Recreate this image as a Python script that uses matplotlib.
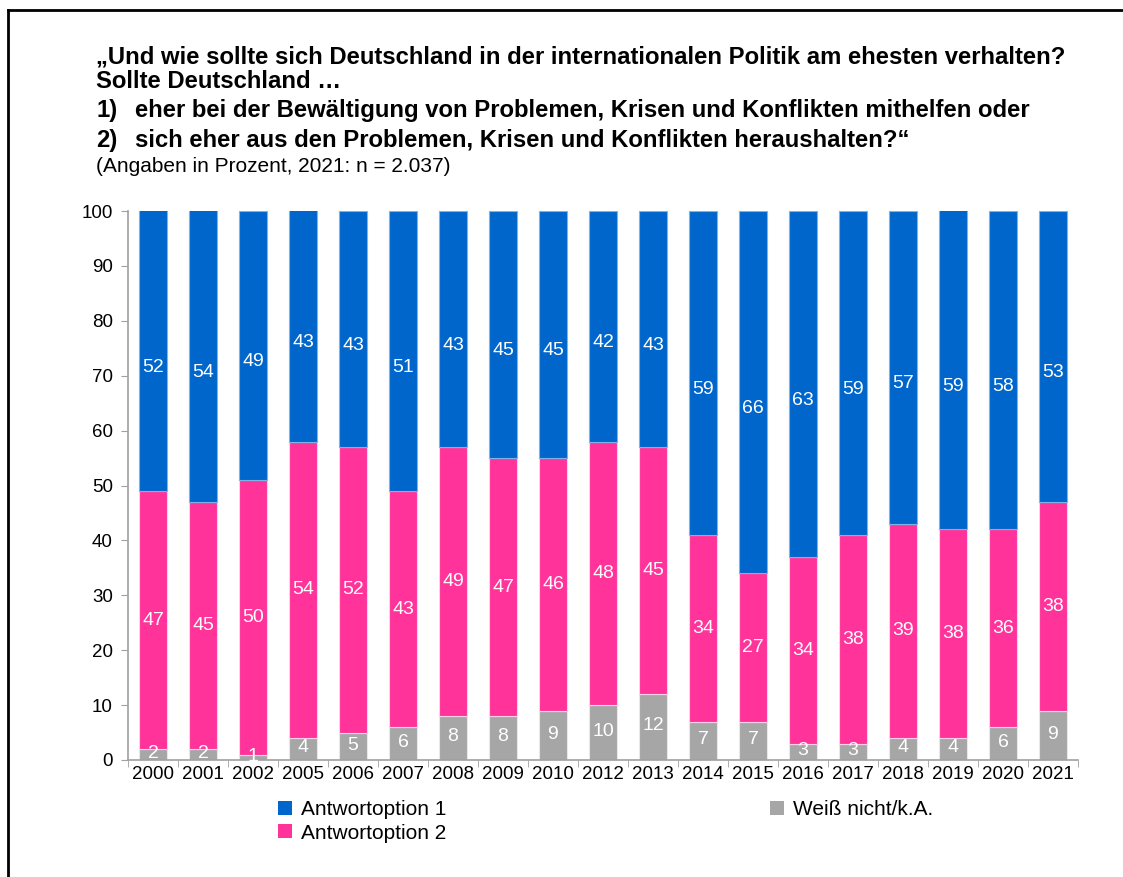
import matplotlib
matplotlib.use("Agg")
import matplotlib.pyplot as plt
from matplotlib.patches import Patch
from matplotlib.lines import Line2D
import numpy as np

plt.rcParams['font.family'] = ['Liberation Sans', 'DejaVu Sans']

years = ["2000", "2001", "2002", "2005", "2006", "2007", "2008", "2009", "2010",
         "2012", "2013", "2014", "2015", "2016", "2017", "2018", "2019", "2020", "2021"]
option1 = [52, 54, 49, 43, 43, 51, 43, 45, 45, 42, 43, 59, 66, 63, 59, 57, 59, 58, 53]
option2 = [47, 45, 50, 54, 52, 43, 49, 47, 46, 48, 45, 34, 27, 34, 38, 39, 38, 36, 38]
dontknow = [2, 2, 1, 4, 5, 6, 8, 8, 9, 10, 12, 7, 7, 3, 3, 4, 4, 6, 9]

series_names = ["Antwortoption 1", "Antwortoption 2", "Weiß nicht/k.A."]
c_blue = "#0066CC"
c_pink = "#FF3399"
c_gray = "#A6A6A6"

title_lines = ["„Und wie sollte sich Deutschland in der internationalen Politik am ehesten verhalten?",
               "Sollte Deutschland …"]
opt_lines = [("1)", "eher bei der Bewältigung von Problemen, Krisen und Konflikten mithelfen oder"),
             ("2)", "sich eher aus den Problemen, Krisen und Konflikten heraushalten?“")]
subtitle = "(Angaben in Prozent, 2021: n = 2.037)"

W, H = 1123, 877
fig = plt.figure(figsize=(W / 100, H / 100), dpi=100)

def fx(px):
    return px / W

def fy(py):
    return 1 - py / H

ax = fig.add_axes([fx(128), fy(760), fx(1078) - fx(128), fy(211) - fy(760)])

x = np.arange(len(years))
bw = 0.55
g = np.array(dontknow, dtype=float)
p = np.array(option2, dtype=float)
b = np.array(option1, dtype=float)

ax.bar(x, g, bw, color=c_gray, edgecolor="#E8E8E8", linewidth=0.8, label=series_names[2])
ax.bar(x, p, bw, bottom=g, color=c_pink, edgecolor="#FFD0E8", linewidth=0.8, label=series_names[1])
ax.bar(x, b, bw, bottom=g + p, color=c_blue, edgecolor="#7FB2E5", linewidth=0.8, label=series_names[0])

lab_fs = 14
for i in range(len(years)):
    ax.text(x[i], g[i] / 2 + 0.2, f"{dontknow[i]}", ha="center", va="center", color="white", fontsize=lab_fs)
    ax.text(x[i], g[i] + p[i] / 2, f"{option2[i]}", ha="center", va="center", color="white", fontsize=lab_fs)
    top = min(100, g[i] + p[i] + b[i])
    ax.text(x[i], (g[i] + p[i] + top) / 2 - 3, f"{option1[i]}", ha="center", va="center", color="white", fontsize=lab_fs)

ax.set_xlim(-0.5, len(years) - 0.5)
ax.set_ylim(0, 100)
ax.set_yticks(np.arange(0, 101, 10))
ax.set_xticks(x)
ax.set_xticklabels(years)
ax.set_xticks(np.arange(-0.5, len(years), 1), minor=True)
ax.tick_params(axis="x", which="major", length=0, labelsize=13.5, pad=4)
ax.tick_params(axis="x", which="minor", length=5, color="#A0A0A0", direction="out")
ax.tick_params(axis="y", length=5, color="#A0A0A0", labelsize=13.5, pad=6)
for s in ["top", "right"]:
    ax.spines[s].set_visible(False)
for s in ["left", "bottom"]:
    ax.spines[s].set_color("#A0A0A0")
    ax.spines[s].set_linewidth(1.2)

# Title block
tfs = 17.2
fig.text(fx(96), fy(57), title_lines[0], fontsize=tfs, fontweight="bold", va="center", ha="left")
fig.text(fx(96), fy(82), title_lines[1], fontsize=tfs, fontweight="bold", va="center", ha="left")
fig.text(fx(96), fy(111), opt_lines[0][0], fontsize=tfs, fontweight="bold", va="center", ha="left")
fig.text(fx(135), fy(111), opt_lines[0][1], fontsize=tfs, fontweight="bold", va="center", ha="left")
fig.text(fx(96), fy(140), opt_lines[1][0], fontsize=tfs, fontweight="bold", va="center", ha="left")
fig.text(fx(135), fy(140), opt_lines[1][1], fontsize=tfs, fontweight="bold", va="center", ha="left")
fig.text(fx(96), fy(167), subtitle, fontsize=15, va="center", ha="left")

# Legends
lfs = 15
h1 = [Patch(facecolor=c_blue), Patch(facecolor=c_pink)]
leg1 = fig.legend(h1, series_names[:2], loc="upper left", bbox_to_anchor=(fx(278), fy(800)),
                  frameon=False, fontsize=lfs, handlelength=0.65, handleheight=0.65,
                  handletextpad=0.45, labelspacing=0.22, borderaxespad=0, borderpad=0)
h2 = [Patch(facecolor=c_gray)]
leg2 = fig.legend(h2, series_names[2:], loc="upper left", bbox_to_anchor=(fx(770), fy(800)),
                  frameon=False, fontsize=lfs, handlelength=0.65, handleheight=0.65,
                  handletextpad=0.45, labelspacing=0.22, borderaxespad=0, borderpad=0)

# Outer frame (left and top edges)
fig.add_artist(Line2D([fx(8), fx(8)], [fy(10), 0], color="black", linewidth=2, transform=fig.transFigure))
fig.add_artist(Line2D([fx(8), 1], [fy(10), fy(10)], color="black", linewidth=2, transform=fig.transFigure))

fig.savefig("out.png", dpi=100)
